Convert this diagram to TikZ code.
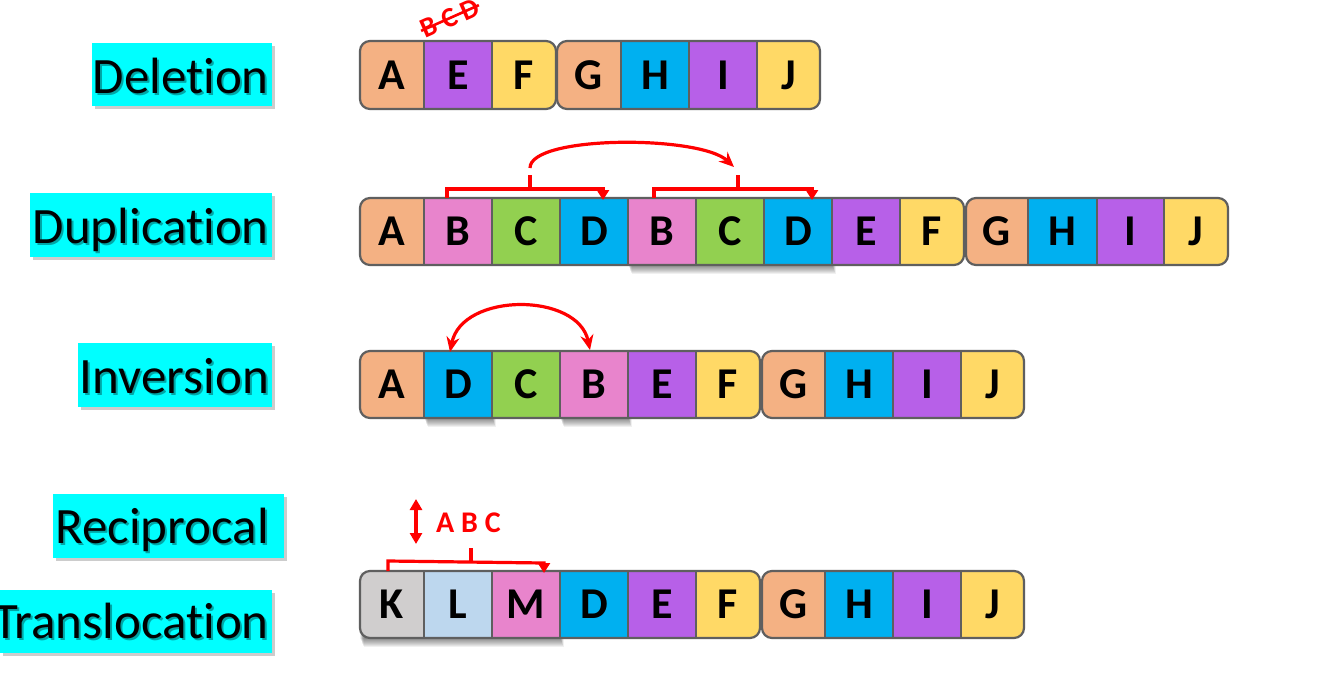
\documentclass[tikz,border=0pt]{standalone}
\usepackage{fontspec}
\setmainfont{Carlito}[Ligatures=CommonOff]
\usetikzlibrary{arrows.meta}
\definecolor{corg}{HTML}{F4B183}
\definecolor{cpur}{HTML}{B760E8}
\definecolor{cyel}{HTML}{FFD966}
\definecolor{cblu}{HTML}{00B0F0}
\definecolor{cpnk}{HTML}{E884CC}
\definecolor{cgrn}{HTML}{92D050}
\definecolor{cgry}{HTML}{D0CECE}
\definecolor{clbl}{HTML}{BDD7EE}
\definecolor{cline}{HTML}{5F5F5F}
\definecolor{cred}{HTML}{FF0000}
\definecolor{ccyan}{HTML}{00FFFF}
\tikzset{
 cellletter/.style={font=\bfseries\fontsize{44}{44}\selectfont, inner sep=0pt, anchor=base},
 sepline/.style={draw=cline, line width=1.6pt},
 outline/.style={draw=cline, line width=2.2pt, rounded corners=10pt},
 redline/.style={draw=cred, line width=3.2pt},
 labelbox/.style={fill=ccyan},
 labeltext/.style={font=\fontsize{51}{60}\selectfont, inner sep=0pt, anchor=base east},
 redtip/.style={-{Triangle[length=10pt,width=12pt]}},
 arctip/.tip={Stealth[length=15pt,width=13pt]},
 rectip/.tip={Triangle[length=11pt,width=12pt]},
}
\newcommand\chromosome[5]{%
 \begin{scope}
 \clip[rounded corners=10pt] (#3,#1) rectangle (#4,#2);
 \foreach \xa/\xb/\col/\lt/\nm in {#5} {
   \fill[\col] (\xa,#1) rectangle (\xb,#2);
   \draw[sepline] (\xa,#1) rectangle (\xb,#2);
 }
 \end{scope}
 \foreach \xa/\xb/\col/\lt/\nm in {#5} {
   \node[cellletter] (\nm) at ({(\xa+\xb)/2}, {(#1+#2)/2+14}) {\lt};
 }
 \draw[outline] (#3,#1) rectangle (#4,#2);
}
\newcommand\cshadow[4]{%
 \foreach \i in {1,...,9} {
   \fill[black, opacity=0.06] ({#1+\i*0.4}, {#3+\i}) rectangle ({#2+\i*0.4}, {#4+\i});
 }
}
\newcommand\glabel[6]{% x0 y0 x1 y1 baseline text
 \fill[black, opacity=0.2] (#1+3,#2+3) rectangle (#3+3,#4+3);
 \fill[labelbox] (#1,#2) rectangle (#3,#4);
 \node[labeltext, text=black, opacity=0.35] at (271,#5+2) {#6};
 \node[labeltext] (lab#6) at (269,#5) {#6};
}
\begin{document}
\begin{tikzpicture}[x=1pt, y=-1pt]
\useasboundingbox (0,0) rectangle (1323,673);
\fill[white] (0,0) rectangle (1323,673);

% labels
\glabel{92}{43}{272}{106}{93}{Deletion}
\glabel{30}{193}{272}{257}{243}{Duplication}
\glabel{78}{343}{272}{407}{393}{Inversion}
\glabel{53}{494}{284}{558}{543}{Reciprocal}
\glabel{0}{590}{272}{653}{638}{Translocation}

% Deletion row
\chromosome{41}{109}{360}{556}{360/424/corg/A/dA, 424/492/cpur/E/dE, 492/556/cyel/F/dF}
\chromosome{41}{109}{557}{820}{557/621/corg/G/dG, 621/689/cblu/H/dH, 689/757/cpur/I/dI, 757/820/cyel/J/dJ}
\node[rotate=24, text=cred, font=\bfseries\fontsize{28}{28}\selectfont, inner sep=1pt] (bcd) at (450,18) {B C D};
\draw[cred, line width=2.6pt] (bcd.west) -- (bcd.east);

% Duplication row
\cshadow{628}{832}{198}{265}
\chromosome{198}{265}{360}{964}{360/424/corg/A/uA, 424/492/cpnk/B/uB, 492/560/cgrn/C/uC, 560/628/cblu/D/uD, 628/696/cpnk/B/uB2, 696/764/cgrn/C/uC2, 764/832/cblu/D/uD2, 832/900/cpur/E/uE, 900/964/cyel/F/uF}
\chromosome{198}{265}{966}{1228}{966/1028/corg/G/uG, 1028/1097/cblu/H/uH, 1097/1164/cpur/I/uI, 1164/1228/cyel/J/uJ}
\coordinate (br1a) at (447,198);
\coordinate (br1b) at (603,200);
\coordinate (br1s) at (530,189);
\coordinate (br1t) at (530,175);
\coordinate (br2a) at (654,198);
\coordinate (br2b) at (812,200);
\coordinate (br2s) at (738,189);
\coordinate (br2t) at (738,175);
\coordinate (arcS) at (530,168);
\coordinate (arcE) at (734,167);
\draw[redline, redtip] (br1a) -- (447,189) -- (603,189) -- (br1b);
\draw[redline] (br1s) -- (br1t);
\draw[redline, redtip] (br2a) -- (654,189) -- (812,189) -- (br2b);
\draw[redline] (br2s) -- (br2t);
\draw[redline, -arctip] (arcS) .. controls (530,135) and (700,135) .. (arcE);

% Inversion row
\cshadow{424}{492}{351}{418}
\cshadow{560}{628}{351}{418}
\chromosome{351}{418}{360}{760}{360/424/corg/A/iA, 424/492/cblu/D/iD, 492/560/cgrn/C/iC, 560/628/cpnk/B/iB, 628/696/cpur/E/iE, 696/760/cyel/F/iF}
\chromosome{351}{418}{762}{1024}{762/825/corg/G/iG, 825/893/cblu/H/iH, 893/961/cpur/I/iI, 961/1024/cyel/J/iJ}
\coordinate (invL) at (450,352);
\coordinate (invR) at (590,350);
\draw[redline, arctip-arctip] (invL) .. controls (462,292) and (578,292) .. (invR);

% Translocation row
\cshadow{360}{560}{571}{638}
\chromosome{571}{638}{360}{760}{360/424/cgry/K/tK, 424/492/clbl/L/tL, 492/560/cpnk/M/tM, 560/628/cblu/D/tD, 628/696/cpur/E/tE, 696/760/cyel/F/tF}
\chromosome{571}{638}{762}{1024}{762/825/corg/G/tG, 825/893/cblu/H/tH, 893/961/cpur/I/tI, 961/1024/cyel/J/tJ}
\coordinate (trA) at (388,571);
\coordinate (trB) at (544,573);
\coordinate (trS) at (471,562);
\coordinate (trT) at (471,548);
\coordinate (recT) at (416,499);
\coordinate (recB) at (416,544);
\draw[redline, redtip] (trA) -- (388,561) -- (544,563) -- (trB);
\draw[redline] (trS) -- (trT);
\draw[redline, rectip-rectip] (recT) -- (recB);
\node[text=cred, font=\bfseries\fontsize{30}{30}\selectfont, inner sep=0pt, anchor=base west] (abc) at (436,532) {A B C};
\end{tikzpicture}
\end{document}
